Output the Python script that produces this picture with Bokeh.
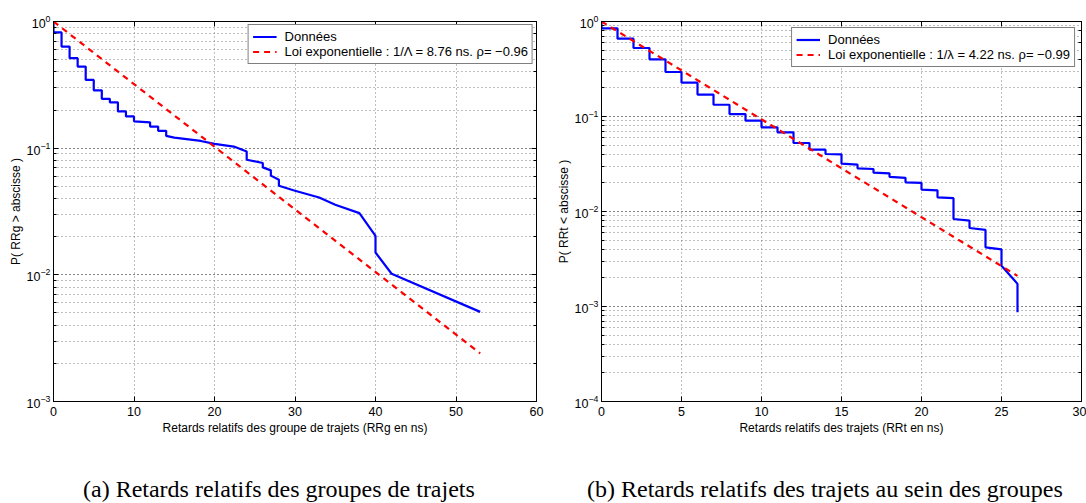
from bokeh.plotting import figure
from bokeh.models import (Range1d, LinearAxis, LogAxis, FixedTicker, LogTicker,
                          Legend, LegendItem, CustomJSTickFormatter, Div)
from bokeh.layouts import row, column
from bokeh.embed import file_html
from bokeh.resources import INLINE

# ---------------- data ----------------
# (a) groups of paths: empirical CCDF, P(RRg > x)
rrg_x = [0, 0, 1, 1, 2, 2, 3, 3, 4, 4, 5, 5, 6, 6, 7, 7, 8, 8, 9, 9, 10, 10,
         12, 12, 13, 13, 14, 14, 15, 18.3, 20, 22.4, 24, 24, 26, 26, 27, 27,
         28, 28, 30, 33, 35, 38, 40, 40, 42, 53]
rrg_p = [1.0, 0.82, 0.82, 0.634, 0.634, 0.513, 0.513, 0.441, 0.441, 0.346,
         0.346, 0.286, 0.286, 0.245, 0.245, 0.230, 0.230, 0.195, 0.195, 0.178,
         0.178, 0.163, 0.160, 0.148, 0.148, 0.137, 0.137, 0.125, 0.121, 0.114,
         0.108, 0.103, 0.094, 0.081, 0.0764, 0.0705, 0.0668, 0.0607, 0.0563,
         0.0505, 0.0461, 0.0408, 0.0357, 0.0307, 0.0203, 0.0150, 0.0102, 0.0051]
rrg_fit_x = [0, 53]
rrg_fit_p = [1.0, 0.00240]

# (b) paths within groups: P(RRt < x)
rrt_x = [0, 0, 1, 1, 2, 2, 3, 3, 4, 4, 5, 5, 6, 6, 7, 7, 8, 8, 9, 9, 10, 10,
         11, 11, 12, 12, 13, 13, 14, 14, 15, 15, 16, 16, 17, 17, 18, 18, 19,
         19, 20, 20, 21, 21, 22, 22, 23, 23, 24, 24, 25, 25, 26, 26]
rrt_p = [1.0, 0.847, 0.847, 0.659, 0.659, 0.526, 0.526, 0.400, 0.400, 0.294,
         0.294, 0.227, 0.227, 0.170, 0.170, 0.133, 0.133, 0.106, 0.106, 0.0903,
         0.0903, 0.0769, 0.0769, 0.0681, 0.0681, 0.0526, 0.0526, 0.0448, 0.0448,
         0.0403, 0.0400, 0.0319, 0.0312, 0.0285, 0.0280, 0.0256, 0.0252, 0.0232,
         0.0226, 0.0203, 0.0200, 0.0170, 0.0167, 0.0141, 0.0138, 0.00834,
         0.00800, 0.0067, 0.0064, 0.0042, 0.0040, 0.00269, 0.00173, 0.00087]
rrt_fit_x = [0, 26]
rrt_fit_p = [1.0, 0.0021]

ticks_a = [0, 10, 20, 30, 40, 50, 60]
ticks_b = [0, 5, 10, 15, 20, 25, 30]

caption_a = "(a) Retards relatifs des groupes de trajets"
caption_b = "(b) Retards relatifs des trajets au sein des groupes"

FONT = "Liberation Sans"
SERIF = "Liberation Serif"


def make(xs, ps, fx, fp, xmax, xticks, ymin, xlabel, ylabel, leg_label,
         width, border_right, leg_margin):
    p = figure(width=width, height=477, x_range=Range1d(0, xmax),
               y_range=Range1d(ymin, 1.0), y_axis_type="log",
               output_backend="svg", toolbar_location=None,
               min_border_left=53, min_border_right=border_right,
               min_border_top=21, min_border_bottom=76)
    p.background_fill_color = "white"
    p.border_fill_color = "white"
    p.outline_line_color = "black"
    p.outline_line_width = 1

    # axes
    p.xaxis.ticker = FixedTicker(ticks=xticks)
    for ax in (p.xaxis[0], p.yaxis[0]):
        ax.axis_line_color = "black"
        ax.major_tick_in = 5
        ax.major_tick_out = 0
        ax.minor_tick_in = 3
        ax.minor_tick_out = 0
        ax.major_label_text_font = FONT
        ax.major_label_text_font_size = "12.5px"
        ax.major_label_text_color = "black"
        ax.axis_label_text_font = FONT
        ax.axis_label_text_font_size = "12px"
        ax.axis_label_text_font_style = "normal"
        ax.axis_label_text_color = "black"
    p.xaxis.minor_tick_in = 0
    p.xaxis.major_label_standoff = 5
    p.xaxis.axis_label_standoff = 2
    p.yaxis.major_label_standoff = 3
    p.yaxis.axis_label_standoff = 1
    p.xaxis.axis_label = xlabel
    p.yaxis.axis_label = ylabel

    blank = CustomJSTickFormatter(code="return ''")
    top = LinearAxis(ticker=FixedTicker(ticks=xticks), formatter=blank,
                     major_label_standoff=0,
                     major_tick_in=5, major_tick_out=0, minor_tick_in=0,
                     minor_tick_out=0, axis_line_color="black")
    p.add_layout(top, "above")
    right = LogAxis(ticker=LogTicker(), formatter=blank,
                    major_label_standoff=0,
                    major_tick_in=5, major_tick_out=0, minor_tick_in=3,
                    minor_tick_out=0, axis_line_color="black")
    p.add_layout(right, "right")

    # grid: dotted, major + minor on y
    p.xgrid.ticker = FixedTicker(ticks=xticks)
    for g in (p.xgrid[0], p.ygrid[0]):
        g.grid_line_color = "#707070"
        g.grid_line_dash = "1 3"
        g.grid_line_width = 1
        g.grid_line_alpha = 0.9
    p.ygrid.minor_grid_line_color = "#707070"
    p.ygrid.minor_grid_line_dash = "1 3"
    p.ygrid.minor_grid_line_alpha = 0.9

    r_data = p.line(xs, ps, line_color="#0000ff", line_width=2.2)
    r_fit = p.line(fx, fp, line_color="#ff0000", line_width=2.2,
                   line_dash="6 5")

    legend = Legend(items=[LegendItem(label="Données", renderers=[r_data]),
                           LegendItem(label=leg_label, renderers=[r_fit])],
                    location="top_right")
    legend.margin = leg_margin
    legend.padding = 4
    legend.spacing = 0
    legend.label_height = 15
    legend.glyph_height = 15
    legend.glyph_width = 24
    legend.label_standoff = 8
    legend.label_text_font = FONT
    legend.label_text_font_size = "13px"
    legend.label_text_color = "black"
    legend.border_line_color = "black"
    legend.border_line_width = 1
    legend.background_fill_color = "white"
    legend.background_fill_alpha = 1.0
    p.add_layout(legend)
    return p


def caption(text, width, pad):
    return Div(text=text, width=width, height=26,
               styles={"font-family": SERIF, "font-size": "24px",
                       "line-height": "24px", "color": "black",
                       "white-space": "nowrap", "padding-left": f"{pad}px",
                       "box-sizing": "border-box", "margin": "0"})


p1 = make(rrg_x, rrg_p, rrg_fit_x, rrg_fit_p, 60, ticks_a, 1e-3,
          "Retards relatifs des groupe de trajets (RRg en ns)",
          "P( RRg > abscisse )",
          "Loi exponentielle : 1/\u039b = 8.76 ns. \u03c1= \u22120.96",
          548, 12, 3)
p2 = make(rrt_x, rrt_p, rrt_fit_x, rrt_fit_p, 30, ticks_b, 1e-4,
          "Retards relatifs des trajets (RRt en ns)",
          "P( RRt < abscisse )",
          "Loi exponentielle : 1/\u03bb = 4.22 ns. \u03c1= \u22120.99",
          538, 5, 6)

layout = column(row(p1, p2),
                row(caption(caption_a, 548, 83), caption(caption_b, 538, 39)))
open("out.html", "w").write(file_html(layout, INLINE))
